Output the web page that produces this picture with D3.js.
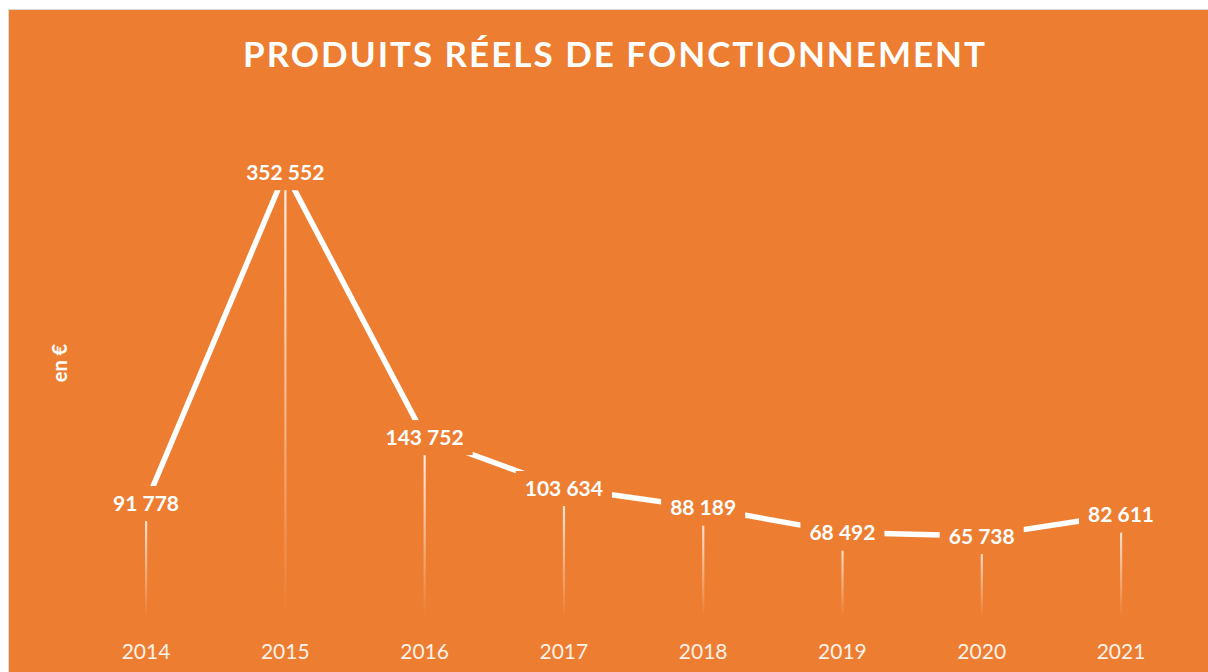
<!DOCTYPE html>
<html>
<head>
<meta charset="utf-8">
<script src="https://cdn.jsdelivr.net/npm/d3@7"></script>
<style>
  html, body { margin: 0; padding: 0; background: #ffffff; }
  svg { display: block; }
</style>
</head>
<body>
<svg id="chart" width="1208" height="672"></svg>
<script>
const years = ["2014", "2015", "2016", "2017", "2018", "2019", "2020", "2021"];
const values = [91778, 352552, 143752, 103634, 88189, 68492, 65738, 82611];
const titleText = "PRODUITS RÉELS DE FONCTIONNEMENT";
const yLabel = "en €";

const W = 1208, H = 672;
const orange = "#ED7D31";
const svg = d3.select("#chart");

// frame
svg.append("rect").attr("x", 8.5).attr("y", 9.5).attr("width", W).attr("height", H)
  .attr("fill", orange).attr("stroke", "#d9d9d9").attr("stroke-width", 1);

const x = d3.scalePoint().domain(years).range([146, 1121]);
const y = d3.scaleLinear().domain([0, 400000]).range([619.5, 112]);

const data = years.map((yr, i) => ({ yr, v: values[i] }));

// gradient for drop lines
const defs = svg.append("defs");
const grad = defs.append("linearGradient").attr("id", "dropGrad")
  .attr("x1", 0).attr("y1", 0).attr("x2", 0).attr("y2", 1);
grad.append("stop").attr("offset", "0%").attr("stop-color", "#ffffff").attr("stop-opacity", 0.92);
grad.append("stop").attr("offset", "100%").attr("stop-color", "#ffffff").attr("stop-opacity", 0);

// title
svg.append("text")
  .attr("x", 614).attr("y", 67)
  .attr("text-anchor", "middle")
  .attr("font-family", "Lato, 'Open Sans', sans-serif")
  .attr("font-weight", "bold")
  .attr("font-size", 35)
  .attr("fill", "#ffffff")
  .attr("textLength", 742)
  .attr("lengthAdjust", "spacing")
  .text(titleText);

// y label
svg.append("text")
  .attr("transform", "translate(67,363) rotate(-90)")
  .attr("text-anchor", "middle")
  .attr("font-family", "Lato, 'Open Sans', sans-serif")
  .attr("font-weight", "bold")
  .attr("font-size", 20)
  .attr("fill", "#ffffff")
  .text(yLabel);

// drop lines
svg.append("g").selectAll("rect").data(data).join("rect")
  .attr("x", d => x(d.yr) - 1)
  .attr("y", d => y(d.v))
  .attr("width", 2.2)
  .attr("height", d => 617 - y(d.v))
  .attr("fill", "url(#dropGrad)");

// line
const line = d3.line().x(d => x(d.yr)).y(d => y(d.v));
svg.append("path").datum(data)
  .attr("d", line)
  .attr("fill", "none")
  .attr("stroke", "#ffffff")
  .attr("stroke-width", 5.5)
  .attr("stroke-linejoin", "miter");

// labels with background
const fmt = v => d3.format(",")(v).replace(/,/g, " ");
const lg = svg.append("g").selectAll("g").data(data).join("g")
  .attr("transform", d => `translate(${x(d.yr)},${y(d.v)})`);
const lt = lg.append("text")
  .attr("text-anchor", "middle")
  .attr("dy", "0.36em")
  .attr("font-family", "Lato, 'Open Sans', sans-serif")
  .attr("font-weight", "bold")
  .attr("font-size", 21)
  .attr("fill", "#ffffff")
  .text(d => fmt(d.v));
lt.each(function () {
  const b = this.getBBox();
  d3.select(this.parentNode).insert("rect", "text")
    .attr("x", b.x - 9).attr("y", -17)
    .attr("width", b.width + 18).attr("height", 35)
    .attr("fill", orange);
});

// x axis labels
svg.append("g").selectAll("text").data(years).join("text")
  .attr("x", d => x(d))
  .attr("y", 659)
  .attr("text-anchor", "middle")
  .attr("font-family", "Lato, 'Open Sans', sans-serif")
  .attr("font-size", 21)
  .attr("fill", "#fdf1e8")
  .text(d => d);
</script>
</body>
</html>
